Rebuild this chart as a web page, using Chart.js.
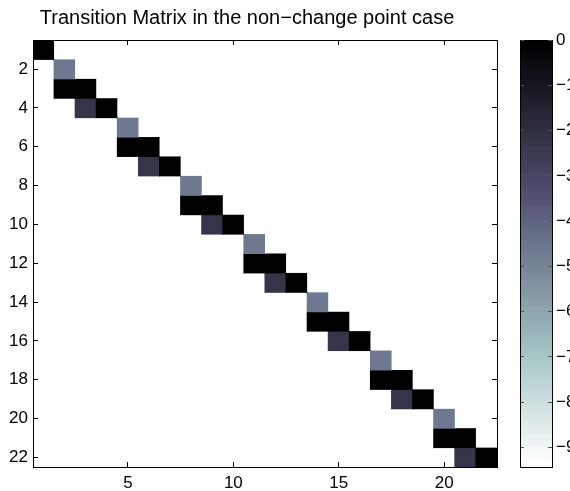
<!DOCTYPE html>
<html>
<head>
<meta charset="utf-8">
<script src="https://cdn.jsdelivr.net/npm/chart.js@4/dist/chart.umd.min.js"></script>
<style>
    html, body { margin: 0; padding: 0; background: #fff; overflow: hidden; }
    #wrap { position: relative; width: 570px; height: 491px; overflow: hidden; }
    canvas { position: absolute; top: 0; }
    #main { left: -10px; }
    #bar { left: 500px; }
</style>
</head>
<body>
<div id="wrap">
    <canvas id="main" width="514" height="491"></canvas>
    <canvas id="bar" width="70" height="491"></canvas>
</div>
<script>
const titleText = 'Transition Matrix in the non\u2212change point case';
const nStates = 22;

// значення фону (білі клітинки)
const backgroundValue = -9.43;

// ненульові клітинки: рядок, стовпець, значення
const cellRows   = [1, 2, 3, 3, 4, 4, 5, 6, 6, 7, 7, 8, 9, 9, 10, 10, 11, 12, 12, 13, 13, 14, 15, 15, 16, 16, 17, 18, 18, 19, 19, 20, 21, 21, 22, 22];
const cellCols   = [1, 2, 2, 3, 3, 4, 5, 5, 6, 6, 7, 8, 8, 9, 9, 10, 11, 11, 12, 12, 13, 14, 14, 15, 15, 16, 17, 17, 18, 18, 19, 20, 20, 21, 21, 22];
const cellValues = [0, -4.6, 0, 0, -2.3, 0, -4.6, 0, 0, -2.3, 0, -4.6, 0, 0, -2.3, 0, -4.6, 0, 0, -2.3, 0, -4.6, 0, 0, -2.3, 0, -4.6, 0, 0, -2.3, 0, -4.6, 0, 0, -2.3, 0];

const xTicks = [5, 10, 15, 20];
const yTicks = [2, 4, 6, 8, 10, 12, 14, 16, 18, 20, 22];
const barTicks = [0, -1, -2, -3, -4, -5, -6, -7, -8, -9];

const colorMin = -9.43;
const colorMax = 0;
const nColors = 64;

Chart.defaults.font.family = '"Liberation Sans", Arial, Helvetica, sans-serif';
Chart.defaults.color = '#000';

// палітра bone (MATLAB), j = 1..64
function bone(j) {
    const m = nColors;
    const n = Math.floor(3 / 8 * m);
    const gray = (j - 1) / (m - 1);
    const r = j <= n ? j / n : 1;
    const g = j <= n ? 0 : (j <= 2 * n ? (j - n) / n : 1);
    const b = j <= 2 * n ? 0 : (j - 2 * n) / (m - 2 * n);
    const to255 = v => Math.round(v * 255);
    return `rgb(${to255((7 * gray + b) / 8)}, ${to255((7 * gray + g) / 8)}, ${to255((7 * gray + r) / 8)})`;
}

// перевернута палітра: максимум = чорний
function colorFor(v) {
    let idx = Math.floor((v - colorMin) / (colorMax - colorMin) * nColors) + 1;
    idx = Math.min(Math.max(idx, 1), nColors);
    return bone(nColors + 1 - idx);
}

const matrix = [];
for (let r = 0; r < nStates; r++) {
    matrix.push(new Array(nStates).fill(backgroundValue));
}
cellRows.forEach((r, i) => { matrix[r - 1][cellCols[i] - 1] = cellValues[i]; });

const cellDatasets = matrix.map((row, ri) => ({
    data: row.map((v, ci) => ({x: ci + 1, y: [ri + 0.5, ri + 1.5]})),
    backgroundColor: row.map(colorFor),
    borderWidth: 0,
    inflateAmount: row.map(v => v > backgroundValue ? 0.5 : 0),
    grouped: false,
    barPercentage: 1,
    categoryPercentage: 1
}));

const tickFont = {size: 17};

// риски всередину, поверх клітинок
function axisGrid(len, color) {
    return {
        drawOnChartArea: false,
        drawTicks: true,
        tickLength: len,
        color: color,
        offset: false,
        z: 1
    };
}
const axisBorder = {display: true, color: '#000', width: 1, z: 1};

new Chart(document.getElementById('main').getContext('2d'), {
    type: 'bar',
    data: {datasets: cellDatasets},
    options: {
        responsive: false,
        animation: false,
        events: [],
        layout: {padding: 0},
        plugins: {
            legend: {display: false},
            tooltip: {enabled: false},
            title: {
                display: true,
                text: titleText,
                color: '#000',
                font: {size: 20, weight: 'normal'},
                padding: {top: 6, bottom: 10}
            }
        },
        scales: {
            x: {
                type: 'linear',
                position: 'bottom',
                min: 0.5,
                max: 22.5,
                offset: false,
                afterBuildTicks: s => { s.ticks = xTicks.map(v => ({value: v})); },
                afterFit: s => { s.height = 24; },
                ticks: {font: tickFont, padding: 11, autoSkip: false, maxRotation: 0, z: 1},
                grid: axisGrid(-5, '#000'),
                border: axisBorder
            },
            x2: {
                type: 'linear',
                axis: 'x',
                position: 'top',
                min: 0.5,
                max: 22.5,
                offset: false,
                afterBuildTicks: s => { s.ticks = xTicks.map(v => ({value: v})); },
                afterFit: s => { s.height = 0; },
                ticks: {display: false},
                grid: axisGrid(-5, '#000'),
                border: axisBorder
            },
            y: {
                type: 'linear',
                position: 'left',
                reverse: true,
                min: 0.5,
                max: 22.5,
                afterBuildTicks: s => { s.ticks = yTicks.map(v => ({value: v})); },
                afterFit: s => { s.width = 43; },
                ticks: {font: tickFont, padding: 10, autoSkip: false, z: 1},
                grid: axisGrid(-5, '#000'),
                border: axisBorder
            },
            y2: {
                type: 'linear',
                axis: 'y',
                position: 'right',
                reverse: true,
                min: 0.5,
                max: 22.5,
                afterBuildTicks: s => { s.ticks = yTicks.map(v => ({value: v})); },
                afterFit: s => { s.width = 7; },
                ticks: {display: false},
                grid: axisGrid(-5, '#000'),
                border: axisBorder
            }
        }
    }
});

// шкала кольорів
const bandDatasets = [];
for (let i = 0; i < nColors; i++) {
    const lo = colorMin + i * (colorMax - colorMin) / nColors;
    const hi = colorMin + (i + 1) * (colorMax - colorMin) / nColors;
    bandDatasets.push({
        data: [[lo, hi]],
        backgroundColor: colorFor((lo + hi) / 2),
        borderWidth: 0,
        inflateAmount: 0.5,
        grouped: false,
        barPercentage: 1,
        categoryPercentage: 1
    });
}

new Chart(document.getElementById('bar').getContext('2d'), {
    type: 'bar',
    data: {labels: [''], datasets: bandDatasets},
    options: {
        responsive: false,
        animation: false,
        events: [],
        layout: {padding: {left: 20, right: 0, top: 40, bottom: 24}},
        plugins: {
            legend: {display: false},
            tooltip: {enabled: false}
        },
        scales: {
            x: {
                position: 'bottom',
                afterFit: s => { s.height = 0; },
                ticks: {display: false},
                grid: {display: true, drawOnChartArea: false, drawTicks: false, z: 1},
                border: axisBorder
            },
            x2: {
                type: 'category',
                labels: [''],
                axis: 'x',
                position: 'top',
                afterFit: s => { s.height = 0; },
                ticks: {display: false},
                grid: {display: true, drawOnChartArea: false, drawTicks: false, z: 1},
                border: axisBorder
            },
            y: {
                type: 'linear',
                position: 'right',
                min: colorMin,
                max: colorMax,
                afterBuildTicks: s => { s.ticks = barTicks.map(v => ({value: v})); },
                afterFit: s => { s.width = 18; },
                ticks: {
                    font: tickFont,
                    padding: 8,
                    autoSkip: false,
                    z: 1,
                    callback: v => v === 0 ? '0' : '\u2212' + Math.abs(v)
                },
                grid: axisGrid(-4, '#555'),
                border: axisBorder
            },
            y2: {
                type: 'linear',
                axis: 'y',
                position: 'left',
                min: colorMin,
                max: colorMax,
                afterBuildTicks: s => { s.ticks = barTicks.map(v => ({value: v})); },
                afterFit: s => { s.width = 0; },
                ticks: {display: false},
                grid: axisGrid(-4, '#555'),
                border: axisBorder
            }
        }
    }
});
</script>
</body>
</html>
